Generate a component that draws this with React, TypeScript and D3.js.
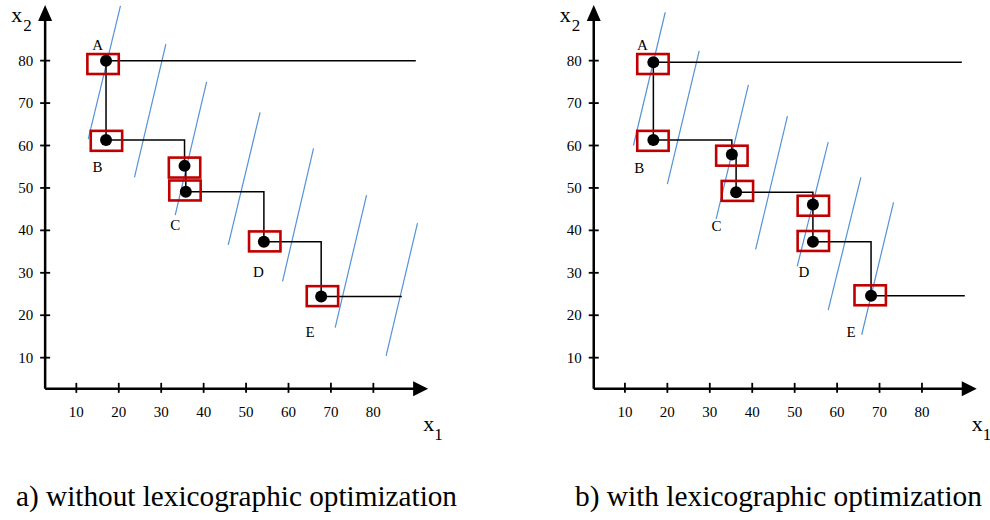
import * as d3 from "d3";

const X_TICKS = [10, 20, 30, 40, 50, 60, 70, 80];
const Y_TICKS = [10, 20, 30, 40, 50, 60, 70, 80];

// a) without lexicographic optimization
const LEFT_POINTS = [[17, 80], [17, 61.3], [35.5, 55.2], [35.8, 49.1], [54.2, 37.3], [67.7, 24.4]];
const LEFT_BOXES = [[16.3, 79.2], [17.1, 61.1], [35.5, 54.8], [35.6, 49.4], [54.4, 37.4], [68, 24.5]];
const LEFT_ENDS = [90, 86.7];
const LEFT_LABELS = [["A", 15, 83.7], ["B", 15, 54.9], ["C", 33.3, 41.3], ["D", 52.9, 30.3], ["E", 65.1, 16.1]];
const LEFT_LEVELS = [
  [20.4, 92.9, 12.8, 61.5],
  [31.1, 83.9, 23.7, 52.5],
  [40.7, 75.0, 33.3, 43.6],
  [53.3, 67.8, 45.8, 36.6],
  [65.9, 59.3, 58.6, 28.0],
  [78.4, 48.3, 71.0, 17.1],
  [90.4, 41.7, 83.0, 10.4],
];

// b) with lexicographic optimization
const RIGHT_POINTS = [[16.7, 79.6], [16.7, 61.3], [35.2, 57.9], [36.2, 49.0], [54.3, 46.1], [54.3, 37.3], [68, 24.6]];
const RIGHT_BOXES = [[16.6, 79.2], [16.6, 61.1], [35.2, 57.6], [36.5, 49.3], [54.4, 45.8], [54.4, 37.5], [67.8, 24.7]];
const RIGHT_ENDS = [89.4, 90.1];
const RIGHT_LABELS = [["A", 14.1, 83.7], ["B", 13.4, 54.7], ["C", 31.6, 41.0], ["D", 52.2, 30.3], ["E", 63.3, 16.0]];
const RIGHT_LEVELS = [
  [19.5, 91.4, 12.0, 60.0],
  [27.5, 82.3, 20.0, 50.9],
  [39.1, 74.3, 31.5, 42.7],
  [48.3, 66.9, 40.8, 35.5],
  [57.9, 60.8, 50.6, 31.5],
  [65.6, 52.5, 57.9, 21.2],
  [73.3, 46.6, 65.8, 15.4],
];

const CAPTIONS = ["a) without lexicographic optimization", "b) with lexicographic optimization"];

const FONT = "Liberation Serif, DejaVu Serif, Noto Serif, Times New Roman, Times, serif";
const BLUE = "#5592d8";
const RED = "#c00000";
const AXIS_AT = 2.65; // value where the two axes cross

const Panel = ({ ox, points, boxes, ends, labels, levels }) => {
  const x = d3.scaleLinear().domain([0, 90]).range([ox + 33.9, ox + 33.9 + 381.9]);
  const y = d3.scaleLinear().domain([0, 90]).range([400.1, 18.2]);
  const ax = x(AXIS_AT);
  const ay = y(AXIS_AT);

  const first = points[0];
  const last = points[points.length - 1];
  const path = [[ends[0], first[1]], ...points, [ends[1], last[1]]];
  const step = d3
    .line()
    .x((d) => x(d[0]))
    .y((d) => y(d[1]))
    .curve(d3.curveStepAfter);

  const bw = x(7.4) - x(0);
  const bh = y(0) - y(4.7);

  const xArrowTip = ax + 383;
  const yArrowTip = 5;

  return (
    <g style={{ fontFamily: FONT }}>
      {/* level lines */}
      {levels.map((l, i) => (
        <line key={"l" + i} x1={x(l[0])} y1={y(l[1])} x2={x(l[2])} y2={y(l[3])} stroke={BLUE} strokeWidth={1.2} />
      ))}

      {/* axes */}
      <line x1={ax} y1={ay} x2={ax} y2={yArrowTip + 14} stroke="#000" strokeWidth={2.5} />
      <line x1={ax} y1={ay} x2={xArrowTip - 14} y2={ay} stroke="#000" strokeWidth={2.5} />
      <path d={`M${ax - 7},${yArrowTip + 16}L${ax},${yArrowTip}L${ax + 7},${yArrowTip + 16}Z`} fill="#000" />
      <path d={`M${xArrowTip - 15},${ay - 7.5}L${xArrowTip},${ay}L${xArrowTip - 15},${ay + 7.5}Z`} fill="#000" />

      {Y_TICKS.map((t) => (
        <g key={"y" + t}>
          <line x1={ax - 5} x2={ax + 5} y1={y(t)} y2={y(t)} stroke="#000" strokeWidth={1.8} />
          <text x={ax - 12} y={y(t) + 5} textAnchor="end" fontSize={15}>
            {t}
          </text>
        </g>
      ))}
      {X_TICKS.map((t) => (
        <g key={"x" + t}>
          <line x1={x(t)} x2={x(t)} y1={ay - 6} y2={ay + 4} stroke="#000" strokeWidth={1.8} />
          <text x={x(t)} y={ay + 28} textAnchor="middle" fontSize={15}>
            {t}
          </text>
        </g>
      ))}

      <text x={ax - 34} y={22} fontSize={22}>x</text>
      <text x={ax - 22} y={31} fontSize={17}>2</text>
      <text x={xArrowTip - 5} y={431} fontSize={22}>x</text>
      <text x={xArrowTip + 6} y={440} fontSize={17}>1</text>

      {/* step path */}
      <path d={step(path)} fill="none" stroke="#000" strokeWidth={1.5} />

      {boxes.map((b, i) => (
        <rect
          key={"b" + i}
          x={x(b[0]) - bw / 2}
          y={y(b[1]) - bh / 2}
          width={bw}
          height={bh}
          fill="none"
          stroke={RED}
          strokeWidth={2.6}
        />
      ))}
      {points.map((p, i) => (
        <circle key={"p" + i} cx={x(p[0])} cy={y(p[1])} r={6} fill="#000" />
      ))}
      {labels.map((l) => (
        <text key={l[0]} x={x(l[1])} y={y(l[2]) + 5} textAnchor="middle" fontSize={15}>
          {l[0]}
        </text>
      ))}
    </g>
  );
};

export default function App() {
  return (
    <svg width={990} height={520} style={{ position: "absolute", left: 0, top: 0, background: "#fff" }}>
      <rect width={990} height={520} fill="#fff" />
      <Panel ox={0} points={LEFT_POINTS} boxes={LEFT_BOXES} ends={LEFT_ENDS} labels={LEFT_LABELS} levels={LEFT_LEVELS} />
      <Panel ox={548.6} points={RIGHT_POINTS} boxes={RIGHT_BOXES} ends={RIGHT_ENDS} labels={RIGHT_LABELS} levels={RIGHT_LEVELS} />
      <g style={{ fontFamily: FONT }}>
        <text x={16} y={506} fontSize={29} textLength={441} lengthAdjust="spacingAndGlyphs">
          {CAPTIONS[0]}
        </text>
        <text x={575} y={506} fontSize={29} textLength={407} lengthAdjust="spacingAndGlyphs">
          {CAPTIONS[1]}
        </text>
      </g>
    </svg>
  );
}
